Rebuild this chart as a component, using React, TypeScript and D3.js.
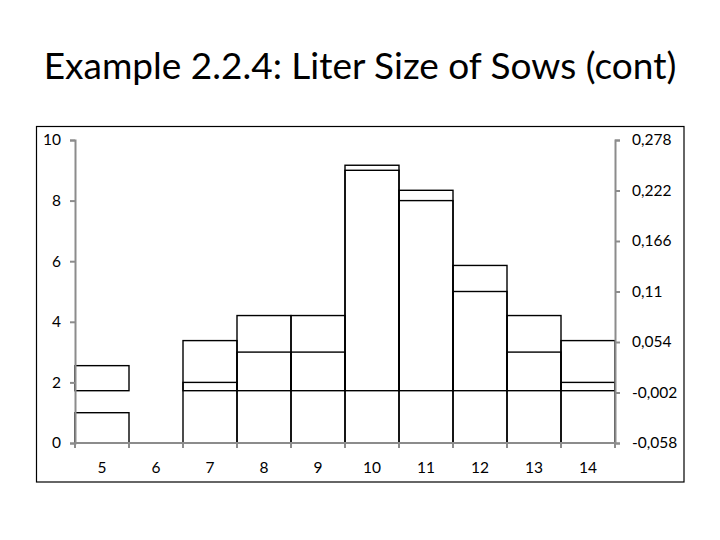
import React, { useRef, useEffect } from "react";
import * as d3 from "d3";

// litter sizes and how many sows had each
const sizes = ["5", "6", "7", "8", "9", "10", "11", "12", "13", "14"];
const counts = [1, 0, 2, 3, 3, 9, 8, 5, 3, 2];
const leftTicks = [0, 2, 4, 6, 8, 10];
const rightTicks = [-0.058, -0.002, 0.054, 0.11, 0.166, 0.222, 0.278];

const total = d3.sum(counts);
const relFreq = counts.map((c) => c / total);

export default function App() {
  const chartRef = useRef<SVGSVGElement>(null);

  useEffect(() => {
    const svg = d3.select(chartRef.current);
    svg.selectAll("*").remove();

    const width = 720;
    const height = 540;
    const font = "Lato, 'Open Sans', sans-serif";

    svg.attr("width", width).attr("height", height);

    svg
      .append("text")
      .attr("x", 360)
      .attr("y", 79)
      .attr("text-anchor", "middle")
      .style("font-family", font)
      .style("font-size", "37px")
      .text("Example 2.2.4: Liter Size of Sows (cont)");

    // chart frame
    svg
      .append("rect")
      .attr("x", 36.5)
      .attr("y", 126.5)
      .attr("width", 647.5)
      .attr("height", 355.5)
      .attr("fill", "none")
      .attr("stroke", "#000")
      .attr("stroke-width", 1.2);

    const plot = { left: 75, right: 615, top: 140, bottom: 443 };

    const xScale = d3
      .scaleBand()
      .domain(sizes)
      .range([plot.left, plot.right])
      .padding(0);

    const yLeft = d3.scaleLinear().domain([0, 10]).range([plot.bottom, plot.top]);
    const yRight = d3
      .scaleLinear()
      .domain([-0.058, 0.278])
      .range([plot.bottom, plot.top]);

    const axisColor = "#8c8c8c";
    const labelStyle = (sel: any) =>
      sel.style("font-family", font).style("font-size", "15.5px").attr("fill", "#000");

    // count bars (left scale) and relative frequency bars (right scale)
    const bars = svg
      .append("g")
      .attr("fill", "none")
      .attr("stroke", "#000")
      .attr("stroke-width", 1.4);

    sizes.forEach((s, i) => {
      if (counts[i] === 0) return;
      bars
        .append("rect")
        .attr("x", xScale(s) as number)
        .attr("y", yLeft(counts[i]))
        .attr("width", xScale.bandwidth())
        .attr("height", yLeft(0) - yLeft(counts[i]));
      bars
        .append("rect")
        .attr("x", xScale(s) as number)
        .attr("y", yRight(relFreq[i]))
        .attr("width", xScale.bandwidth())
        .attr("height", yRight(0) - yRight(relFreq[i]));
    });

    // left axis
    const gl = svg.append("g").attr("transform", `translate(${plot.left},0)`);
    gl.call(
      d3.axisLeft(yLeft).tickValues(leftTicks).tickSize(5).tickSizeOuter(5).tickPadding(9)
    );
    gl.selectAll("path, line").attr("stroke", axisColor).attr("stroke-width", 2);
    gl.selectAll("text").call(labelStyle as any);

    // right axis
    const gr = svg.append("g").attr("transform", `translate(${plot.right},0)`);
    gr.call(
      d3
        .axisRight(yRight)
        .tickValues(rightTicks)
        .tickSize(5)
        .tickSizeOuter(5)
        .tickPadding(12)
        .tickFormat((d) => String(+(+d).toFixed(3)).replace(".", ","))
    );
    gr.selectAll("path, line").attr("stroke", axisColor).attr("stroke-width", 2);
    gr.selectAll("text").call(labelStyle as any);

    // bottom axis, ticks on category boundaries
    const gb = svg.append("g").attr("transform", `translate(0,${plot.bottom})`);
    gb.append("line")
      .attr("x1", plot.left)
      .attr("x2", plot.right)
      .attr("stroke", axisColor)
      .attr("stroke-width", 2);
    const edges = sizes.map((s) => xScale(s) as number).concat(plot.right);
    gb.selectAll("line.tick")
      .data(edges)
      .enter()
      .append("line")
      .attr("class", "tick")
      .attr("x1", (d) => d)
      .attr("x2", (d) => d)
      .attr("y1", 0)
      .attr("y2", 5)
      .attr("stroke", axisColor)
      .attr("stroke-width", 2);
    gb.selectAll("text")
      .data(sizes)
      .enter()
      .append("text")
      .attr("x", (d) => (xScale(d) as number) + xScale.bandwidth() / 2)
      .attr("y", 30)
      .attr("text-anchor", "middle")
      .text((d) => d)
      .call(labelStyle as any);
  }, []);

  return (
    <svg
      ref={chartRef}
      style={{ position: "absolute", left: 0, top: 0, background: "#fff" }}
    ></svg>
  );
}
